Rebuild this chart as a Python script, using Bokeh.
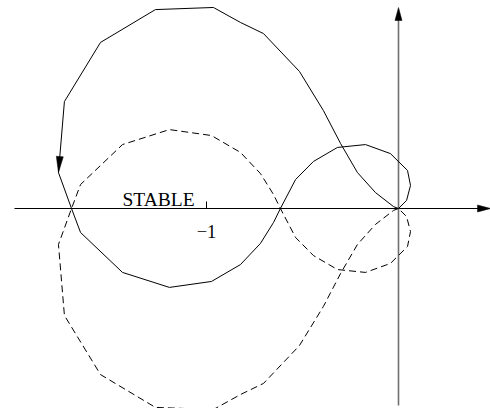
import numpy as np
from bokeh.plotting import figure
from bokeh.models import Range1d, Label
from bokeh.embed import file_html
from bokeh.resources import INLINE

# Nyquist locus for positive frequencies (real / imaginary parts)
re_pos = [0.0, -0.026, -0.12, -0.214, -0.302, -0.391, -0.516, -0.703, -0.823, -0.964,
          -1.266, -1.552, -1.74, -1.771, -1.703, -1.656, -1.4375, -1.193, -0.974, -0.823,
          -0.719, -0.651, -0.615, -0.536, -0.443, -0.318, -0.172, -0.042, 0.047, 0.0625,
          0.042, 0.0]
im_pos = [0.0, 0.01, 0.083, 0.1875, 0.339, 0.51, 0.714, 0.911, 0.969, 1.047,
          1.036, 0.865, 0.557, 0.1875, 0.0, -0.125, -0.333, -0.411, -0.380, -0.292,
          -0.182, -0.073, 0.0, 0.151, 0.245, 0.318, 0.333, 0.286, 0.198, 0.12,
          0.042, 0.0]

# negative frequencies give the mirror image (complex conjugate)
re_neg = list(re_pos)
im_neg = [-v for v in im_pos]

tick_values = [-1]
tick_labels = ["\u22121"]
region_label = "STABLE"

PX = 1.0 / 192.0  # data units per screen pixel (equal aspect)

p = figure(width=490, height=408, output_backend="svg", toolbar_location=None,
           x_range=Range1d(-398 * PX, 92 * PX), y_range=Range1d(-200 * PX, 208 * PX),
           x_axis_type=None, y_axis_type=None, min_border=0)
p.grid.visible = False
p.outline_line_color = None


def head(tx, ty, dx, dy, length, width):
    n = np.hypot(dx, dy)
    ux, uy = dx / n, dy / n
    bx, by = tx - ux * length, ty - uy * length
    px_, py_ = -uy * width / 2, ux * width / 2
    return [tx, bx + px_, bx - px_], [ty, by + py_, by - py_]


# coordinate axes with arrowheads
x_left, x_right = -384 * PX, 92 * PX
y_bottom, y_top = -197 * PX, 201 * PX
p.line([x_left, x_right - 6 * PX], [0, 0], line_color="black", line_width=1.2)
hx, hy = head(x_right, 0, 1, 0, 13 * PX, 7 * PX)
p.patch(hx, hy, fill_color="black", line_color="black", line_width=0.5)

p.line([0, 0], [y_bottom, y_top - 6 * PX], line_color="#707070", line_width=1.6)
vx, vy = head(0, y_top, 0, 1, 13 * PX, 7 * PX)
p.patch(vx, vy, fill_color="black", line_color="black", line_width=0.5)

# tick on the real axis
for t, lab in zip(tick_values, tick_labels):
    p.line([t, t], [0, 7 * PX], line_color="black", line_width=1)
    p.add_layout(Label(x=t, y=-23 * PX, text=lab, text_align="center",
                       text_baseline="alphabetic", text_font="Liberation Serif",
                       text_font_size="18.5px", text_color="black"))

p.add_layout(Label(x=-1.4375, y=9 * PX, text=region_label, text_align="left",
                   text_baseline="alphabetic", text_font="Liberation Serif",
                   text_font_size="19.5px", text_color="black"))

# loci
p.line(re_pos, im_pos, line_color="black", line_width=1)
p.line(re_neg, im_neg, line_color="black", line_width=1, line_dash="7 4")

# direction arrow on the solid locus
k = 13
ax, ay = head(re_pos[k], im_pos[k], re_pos[k] - re_pos[k - 1], im_pos[k] - im_pos[k - 1],
              16 * PX, 7 * PX)
p.patch(ax, ay, fill_color="black", line_color="black", line_width=0.5)

open("out.html", "w").write(file_html(p, INLINE))
